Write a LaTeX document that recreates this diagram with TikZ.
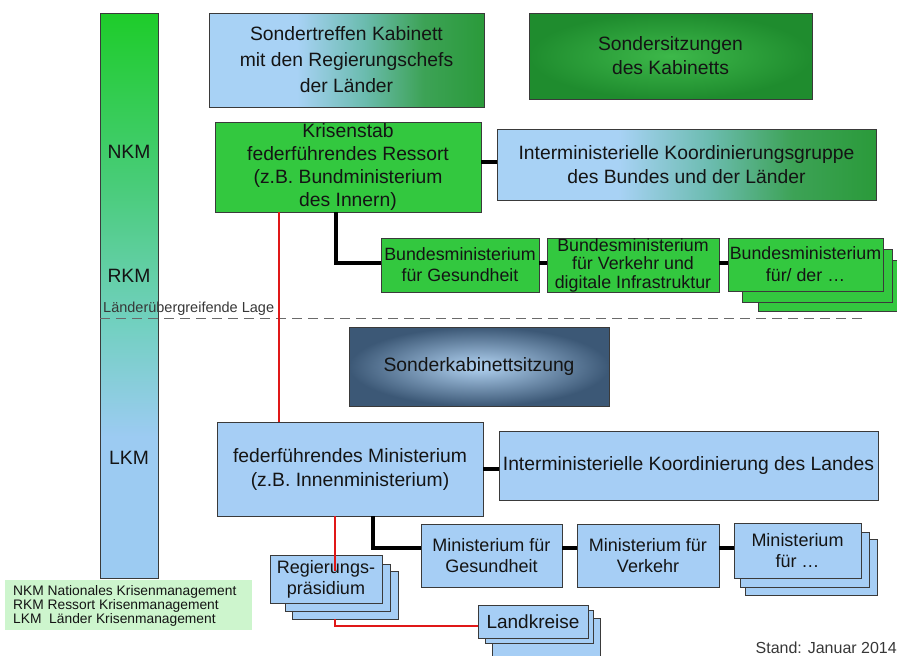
\documentclass[tikz,border=0pt]{standalone}
\usepackage{fontspec}
\setmainfont{Liberation Sans}
\definecolor{bordc}{HTML}{3A3A3A}
\definecolor{txt}{HTML}{141414}
\definecolor{grn}{HTML}{33C83F}
\definecolor{lblue}{HTML}{A6CEF5}
\definecolor{legbg}{HTML}{CDF5CD}
\definecolor{lbA}{HTML}{A8D2F5}
\definecolor{tealA}{HTML}{6CBCB0}
\definecolor{dgA}{HTML}{2A9A3A}
\definecolor{barG}{HTML}{1ECC2A}
\definecolor{barM}{HTML}{48CC78}
\definecolor{barT}{HTML}{72D0C0}
\definecolor{barB}{HTML}{9CCBF2}
\definecolor{ssIn}{HTML}{3DB84A}
\definecolor{ssOut}{HTML}{1F8C2E}
\definecolor{skIn}{HTML}{B2D3F2}
\definecolor{skOut}{HTML}{3C5876}
\definecolor{redl}{HTML}{E01818}
\definecolor{dashc}{HTML}{6A6A6A}
\pgfdeclarehorizontalshading{bgshade}{100bp}{color(0bp)=(lbA); color(25bp)=(lbA); color(41bp)=(lbA); color(53bp)=(tealA); color(64bp)=(dgA!85!lbA); color(75bp)=(dgA); color(100bp)=(dgA)}
\pgfdeclareverticalshading{barshade}{100bp}{color(0bp)=(barB); color(25bp)=(barB); color(37.5bp)=(barB); color(47.5bp)=(barT); color(60bp)=(barM); color(75bp)=(barG); color(100bp)=(barG)}
\begin{document}
\begin{tikzpicture}[x=1pt,y=-1pt,
  box/.style={draw=bordc, line width=0.7pt, inner sep=0pt, align=center, text=txt},
  fmain/.style={font=\fontsize{19.3}{24}\selectfont},
  fmin/.style={font=\fontsize{18}{21}\selectfont},
  greenbox/.style={box, fill=grn},
  bluebox/.style={box, fill=lblue},
  bgbox/.style={box, shade, shading=bgshade},
  blk/.style={line width=3.4pt, black},
  rd/.style={line width=1.9pt, redl},
]
\useasboundingbox (0,0) rectangle (897,656);

% left bar
\node[box, shade, shading=barshade, minimum width=58, minimum height=565] (bar) at (129,295.5) {};
\node[fmain, text=txt] (nkm) at (129,152) {NKM};
\node[fmain, text=txt] (rkm) at (129,276) {RKM};
\node[fmain, text=txt] (lkm) at (129,458) {LKM};

% top row
\node[bgbox, font=\fontsize{19.3}{26}\selectfont, minimum width=275, minimum height=94] (st) at (346.5,60)
  {Sondertreffen Kabinett\\mit den Regierungschefs\\der Länder};
\node[box, shade, inner color=ssIn, outer color=ssOut, fmain, minimum width=283, minimum height=86] (ss) at (670.5,56)
  {Sondersitzungen\\des Kabinetts};

% Krisenstab
\node[greenbox, font=\fontsize{19.3}{23.3}\selectfont, minimum width=266, minimum height=90] (kris) at (348,167)
  {Krisenstab\\federführendes Ressort\\(z.B. Bundministerium\\des Innern)};
\node[bgbox, fmain, minimum width=379, minimum height=71] (ikg) at (686.5,164.5)
  {Interministerielle Koordinierungsgruppe\\des Bundes und der Länder};

% Bundesministerien
\node[greenbox, font=\fontsize{17.8}{21}\selectfont, minimum width=158, minimum height=54] (bmg) at (460,265)
  {Bundesministerium\\für Gesundheit};
\node[greenbox, font=\fontsize{17.8}{18.5}\selectfont, minimum width=172, minimum height=54] (bmv) at (633,265)
  {Bundesministerium\\für Verkehr und\\digitale Infrastruktur};
\node[greenbox, minimum width=144, minimum height=51] (bmd3) at (830,285.5) {};
\node[greenbox, minimum width=150, minimum height=53] (bmd2) at (817,275.5) {};
\node[greenbox, font=\fontsize{17.8}{22}\selectfont, minimum width=155, minimum height=53] (bmd) at (805.5,264.5)
  {Bundesministerium\\für/ der …};

% dashed line and label
\coordinate (d1) at (100,318);
\coordinate (d2) at (862,318);
\draw[dashc, line width=1pt, dash pattern=on 10pt off 6pt] (d1) -- (d2);
\node[anchor=west, inner sep=0pt, text=txt!85, font=\fontsize{14.5}{16}\selectfont] (lage) at (103,309) {Länderübergreifende Lage};

% Sonderkabinettsitzung
\node[box, shade, inner color=skIn, outer color=skOut, fmain, minimum width=260, minimum height=79] (sks) at (479,366.5)
  {Sonderkabinettsitzung};

% Land level
\node[bluebox, fmain, minimum width=266, minimum height=94] (fed) at (350,469)
  {federführendes Ministerium\\(z.B. Innenministerium)};
\node[bluebox, fmain, minimum width=379, minimum height=69] (ikl) at (688.5,465.5)
  {Interministerielle Koordinierung des Landes};

\node[bluebox, fmin, minimum width=141, minimum height=63] (mg) at (491.5,555.5)
  {Ministerium für\\Gesundheit};
\node[bluebox, fmin, minimum width=142, minimum height=63] (mv) at (648,555.5)
  {Ministerium für\\Verkehr};
\node[bluebox, minimum width=132, minimum height=56] (md3) at (811,567) {};
\node[bluebox, minimum width=129, minimum height=55] (md2) at (804.5,559.5) {};
\node[bluebox, fmin, minimum width=127, minimum height=55] (md) at (797.5,550.5)
  {Ministerium\\für …};

\node[bluebox, minimum width=106, minimum height=48] (rp3) at (345,595) {};
\node[bluebox, minimum width=105, minimum height=47] (rp2) at (337.5,587.5) {};
\node[bluebox, fmin, minimum width=112, minimum height=48] (rp) at (326,579)
  {Regierungs-\\präsidium};

\node[bluebox, minimum width=108, minimum height=42] (lk3) at (546,639) {};
\node[bluebox, minimum width=108, minimum height=33] (lk2) at (539,626.5) {};
\node[bluebox, font=\fontsize{19}{21}\selectfont, minimum width=110, minimum height=33] (lk) at (533,621.5)
  {Landkreise};

% connectors
\coordinate (c1) at (0,162);
\draw[blk] (ikg.west |- c1) -- (kris.east |- c1);
\coordinate (k1) at (336,212);
\coordinate (c2) at (0,263);
\draw[blk] (kris.south -| k1) |- (bmg.west |- c2);
\draw[blk] (bmg.east |- c2) -- (bmv.west |- c2);
\draw[blk] (bmv.east |- c2) -- (bmd.west |- c2);
\coordinate (c5) at (0,469);
\draw[blk] (fed.east |- c5) -- (ikl.west |- c5);
\coordinate (f1) at (373,0);
\coordinate (c3) at (0,548);
\draw[blk] (fed.south -| f1) |- (mg.west |- c3);
\draw[blk] (mg.east |- c3) -- (mv.west |- c3);
\draw[blk] (mv.east |- c3) -- (md.west |- c3);

\coordinate (r1) at (279,0);
\draw[rd] (kris.south -| r1) -- (fed.north -| r1);
\coordinate (r2) at (335,0);
\coordinate (c4) at (0,626);
\draw[rd] (fed.south -| r2) -- (rp3.north -| r2);
\draw[rd] (rp3.south -| r2) |- (lk.west |- c4);

% legend
\node[fill=legbg, minimum width=247, minimum height=50, inner sep=0pt] (leg) at (128.5,605) {};
\node[anchor=west, inner sep=0pt, align=left, text=txt, font=\fontsize{13.8}{14}\selectfont] (legt) at (13,606)
  {NKM Nationales Krisenmanagement\\RKM Ressort Krisenmanagement\\LKM~~Länder Krisenmanagement};

\node[anchor=east, inner sep=0pt, text=txt!85, font=\fontsize{16}{18}\selectfont] (stand) at (897,648) {Stand: Januar 2014};
\end{tikzpicture}
\end{document}
